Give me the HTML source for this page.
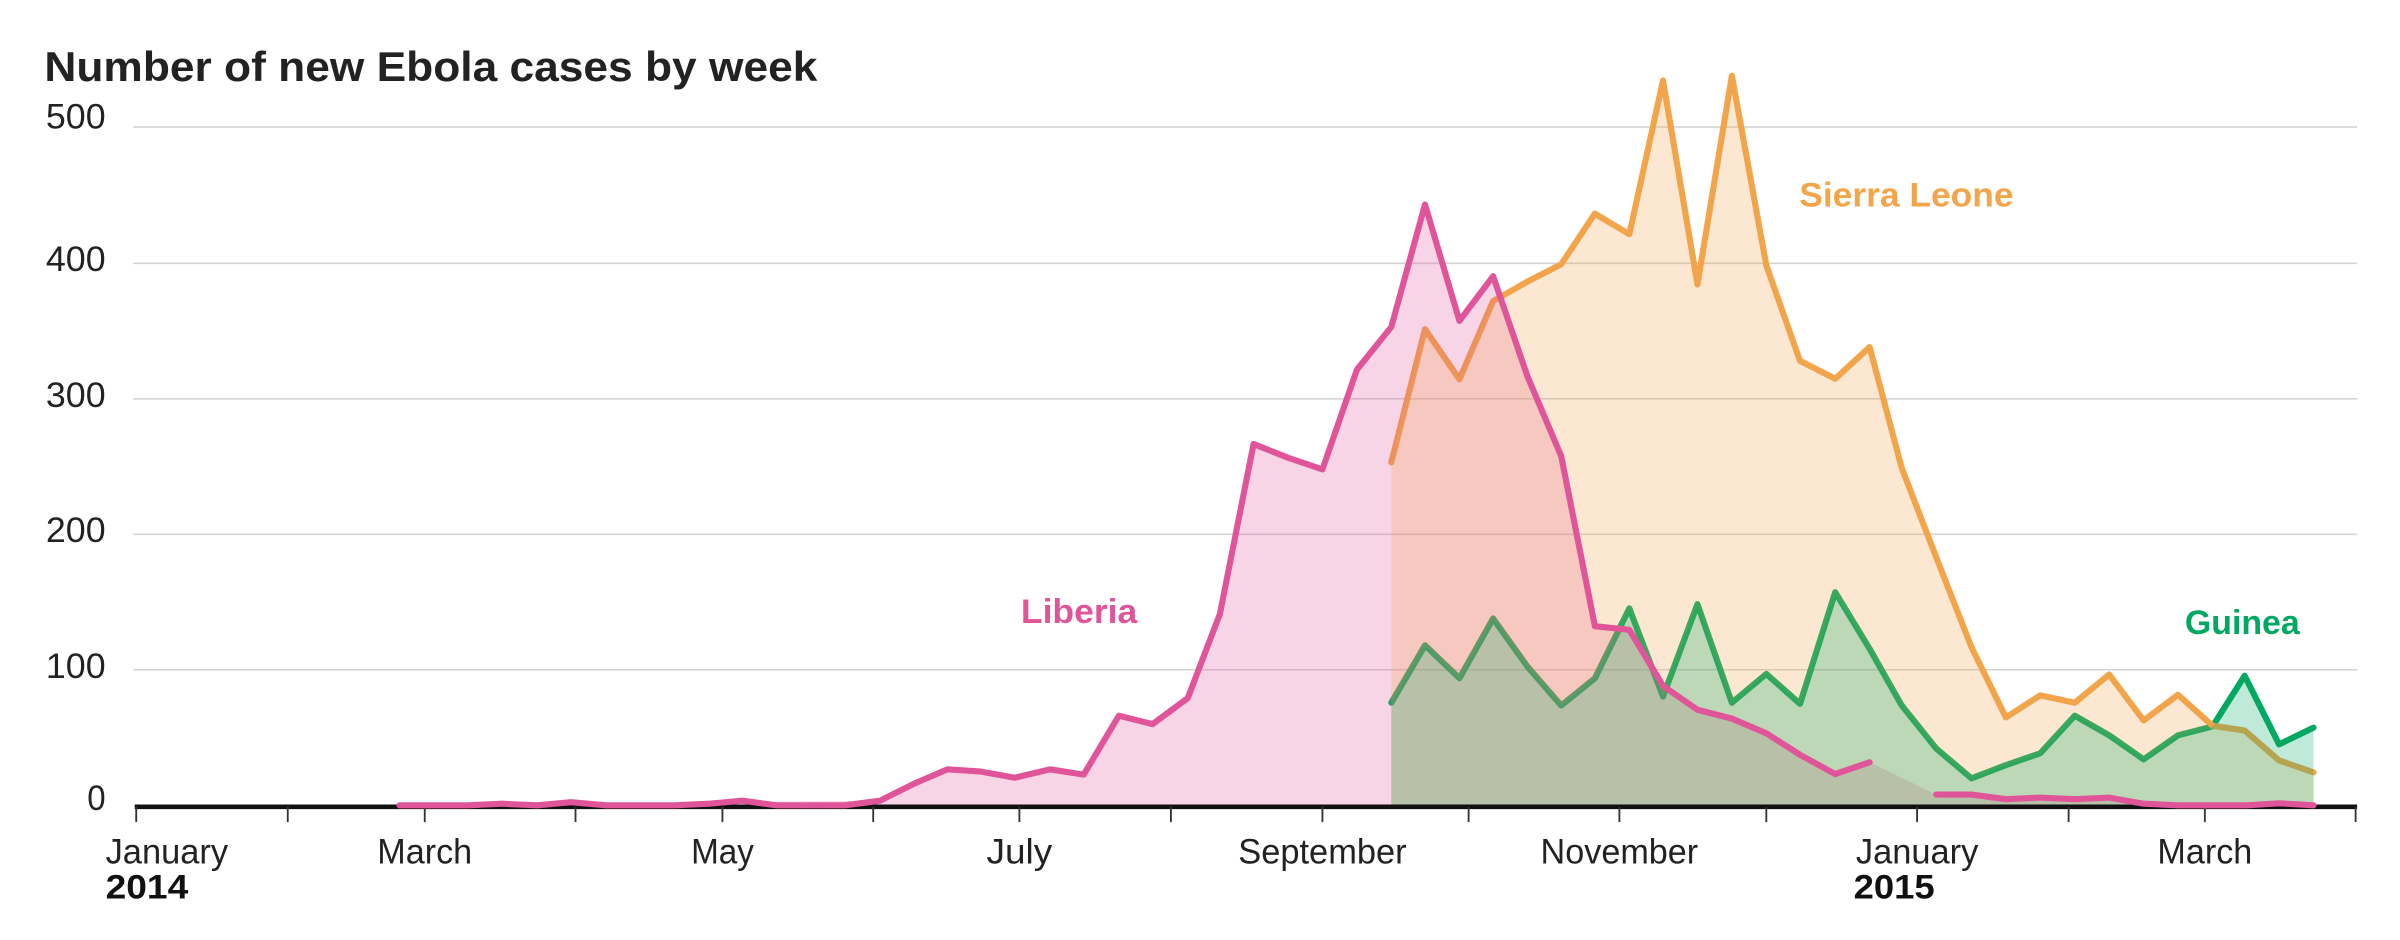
<!DOCTYPE html>
<html><head><meta charset="utf-8"><style>
html,body{margin:0;padding:0;background:#fff;}
svg{display:block;}
text{font-family:"Liberation Sans",sans-serif;}
</style></head><body>
<svg width="2400" height="940" viewBox="0 0 1568 614" preserveAspectRatio="none" xmlns="http://www.w3.org/2000/svg">
<g stroke="#d4d4d4" stroke-width="1">
<line x1="87" y1="83" x2="1540" y2="83"/>
<line x1="87" y1="172" x2="1540" y2="172"/>
<line x1="87" y1="260.5" x2="1540" y2="260.5"/>
<line x1="87" y1="349" x2="1540" y2="349"/>
<line x1="87" y1="437.5" x2="1540" y2="437.5"/>
</g>
<text x="29" y="53" font-size="27.5" font-weight="bold" fill="#222" textLength="505" lengthAdjust="spacingAndGlyphs">Number of new Ebola cases by week</text>
<g font-size="23" fill="#222" text-anchor="end">
<text x="69" y="84" textLength="39" lengthAdjust="spacingAndGlyphs">500</text>
<text x="69" y="177" textLength="39" lengthAdjust="spacingAndGlyphs">400</text>
<text x="69" y="266" textLength="39" lengthAdjust="spacingAndGlyphs">300</text>
<text x="69" y="354" textLength="39" lengthAdjust="spacingAndGlyphs">200</text>
<text x="69" y="443" textLength="39" lengthAdjust="spacingAndGlyphs">100</text>
<text x="69" y="529" textLength="12" lengthAdjust="spacingAndGlyphs">0</text>
</g>

<polyline fill="none" stroke="#00a862" stroke-width="4" stroke-linejoin="round" stroke-linecap="round" points="909,459 931,421.5 953.5,443 975.5,404 998,435.5 1020,460.8 1042,443 1064.5,397.4 1086.5,455 1109,394.6 1131.5,459 1154,440.2 1176,459.7 1199,386.8 1221.5,423.8 1242.5,460.8 1265,488.9 1288,508.4 1310.5,499.8 1333,492 1355.5,467.5 1378,480.3 1400.5,496 1423,480.3 1445.5,474.5 1466.5,441.4 1489,486.2 1511.5,475.3"/>
<polyline fill="none" stroke="#f2a54a" stroke-width="4" stroke-linejoin="round" stroke-linecap="round" points="909,302 931,215 953.5,247.8 975.5,196.7 998,183.9 1020,172.6 1042,139.5 1064.5,153 1086.5,52.6 1109,185.8 1131.5,49.5 1154,173.4 1176,235.7 1199,247.4 1221.5,226.7 1242.5,305.8 1265,364 1288,422.7 1310.5,468.6 1333,454.2 1355.5,459 1378,440.6 1400.5,470.6 1423,453.8 1445.5,474 1466.5,477.2 1489,496.7 1511.5,504.5"/>

<polygon fill="#e0559a" fill-opacity="0.25" points="261,526 575,523 597,512 619,502.5 641,504 663,508 686,502.5 708,506 731,467.5 753,473 776,456 797,401 819,290 841.5,299 864,306.6 886.5,241.5 909,213.5 931,133.6 953.5,209.6 975.5,180.4 998,246 1020,298 1042,409 1064.5,411.4 1086.5,448 1109,463.6 1131.5,469.4 1154,479 1176,493 1199,505.6 1221.5,497.9 1265,519 1288,519 1310.5,522 1333,521 1355.5,522 1378,521 1400.5,525 1511.5,526 1511.5,527 261,527"/>
<polygon fill="#f5a54a" fill-opacity="0.25" points="909,302 931,215 953.5,247.8 975.5,196.7 998,183.9 1020,172.6 1042,139.5 1064.5,153 1086.5,52.6 1109,185.8 1131.5,49.5 1154,173.4 1176,235.7 1199,247.4 1221.5,226.7 1242.5,305.8 1265,364 1288,422.7 1310.5,468.6 1333,454.2 1355.5,459 1378,440.6 1400.5,470.6 1423,453.8 1445.5,474 1466.5,477.2 1489,496.7 1511.5,504.5 1511.5,527 909,527"/>
<polygon fill="#00a862" fill-opacity="0.25" points="909,459 931,421.5 953.5,443 975.5,404 998,435.5 1020,460.8 1042,443 1064.5,397.4 1086.5,455 1109,394.6 1131.5,459 1154,440.2 1176,459.7 1199,386.8 1221.5,423.8 1242.5,460.8 1265,488.9 1288,508.4 1310.5,499.8 1333,492 1355.5,467.5 1378,480.3 1400.5,496 1423,480.3 1445.5,474.5 1466.5,441.4 1489,486.2 1511.5,475.3 1511.5,527 909,527"/>

<line x1="88" y1="527" x2="1540" y2="527" stroke="#111" stroke-width="3"/>
<g stroke="#333" stroke-width="1.2">
<line x1="89" y1="527" x2="89" y2="537"/><line x1="188" y1="527" x2="188" y2="537"/>
<line x1="277.5" y1="527" x2="277.5" y2="537"/><line x1="376" y1="527" x2="376" y2="537"/>
<line x1="472" y1="527" x2="472" y2="537"/><line x1="570.5" y1="527" x2="570.5" y2="537"/>
<line x1="666" y1="527" x2="666" y2="537"/><line x1="765" y1="527" x2="765" y2="537"/>
<line x1="864" y1="527" x2="864" y2="537"/><line x1="959.5" y1="527" x2="959.5" y2="537"/>
<line x1="1058" y1="527" x2="1058" y2="537"/><line x1="1154" y1="527" x2="1154" y2="537"/>
<line x1="1252.5" y1="527" x2="1252.5" y2="537"/><line x1="1351.5" y1="527" x2="1351.5" y2="537"/>
<line x1="1440.5" y1="527" x2="1440.5" y2="537"/><line x1="1539" y1="527" x2="1539" y2="537"/>
</g>

<polyline fill="none" stroke="#e0559a" stroke-width="4" stroke-linejoin="round" stroke-linecap="round" points="261,526 283,526 306,526 328,525 351,526 373,524 396,526 418,526 441,526 463,525 485,523 507,526 530,526 552,526 575,523 597,512 619,502.5 641,504 663,508 686,502.5 708,506 731,467.5 753,473 776,456 797,401 819,290 841.5,299 864,306.6 886.5,241.5 909,213.5 931,133.6 953.5,209.6 975.5,180.4 998,246 1020,298 1042,409 1064.5,411.4 1086.5,448 1109,463.6 1131.5,469.4 1154,479 1176,493 1199,505.6 1221.5,497.9"/>
<polyline fill="none" stroke="#e0559a" stroke-width="4" stroke-linejoin="round" stroke-linecap="round" points="1265,519 1288,519 1310.5,522 1333,521 1355.5,522 1378,521 1400.5,525 1423,526 1445.5,526 1468,526 1489,524.7 1511.5,526"/>

<g font-size="23" fill="#222" text-anchor="middle">
<text x="109" y="564" textLength="80" lengthAdjust="spacingAndGlyphs">January</text>
<text x="277.5" y="564" textLength="62" lengthAdjust="spacingAndGlyphs">March</text>
<text x="472" y="564" textLength="41" lengthAdjust="spacingAndGlyphs">May</text>
<text x="666" y="564" textLength="43" lengthAdjust="spacingAndGlyphs">July</text>
<text x="864" y="564" textLength="110" lengthAdjust="spacingAndGlyphs">September</text>
<text x="1058" y="564" textLength="103" lengthAdjust="spacingAndGlyphs">November</text>
<text x="1252.5" y="564" textLength="80" lengthAdjust="spacingAndGlyphs">January</text>
<text x="1440.5" y="564" textLength="62" lengthAdjust="spacingAndGlyphs">March</text>
</g>
<g font-size="22.5" font-weight="bold" fill="#111">
<text x="69" y="587" textLength="54" lengthAdjust="spacingAndGlyphs">2014</text>
<text x="1211" y="587" textLength="53" lengthAdjust="spacingAndGlyphs">2015</text>
</g>
<g font-size="22.5" font-weight="bold">
<text x="667" y="407" fill="#e0559a" textLength="76" lengthAdjust="spacingAndGlyphs">Liberia</text>
<text x="1175.5" y="135" fill="#f2a54a" textLength="140" lengthAdjust="spacingAndGlyphs">Sierra Leone</text>
<text x="1427.5" y="414" fill="#00a862" textLength="75" lengthAdjust="spacingAndGlyphs">Guinea</text>
</g>
</svg>
</body></html>
